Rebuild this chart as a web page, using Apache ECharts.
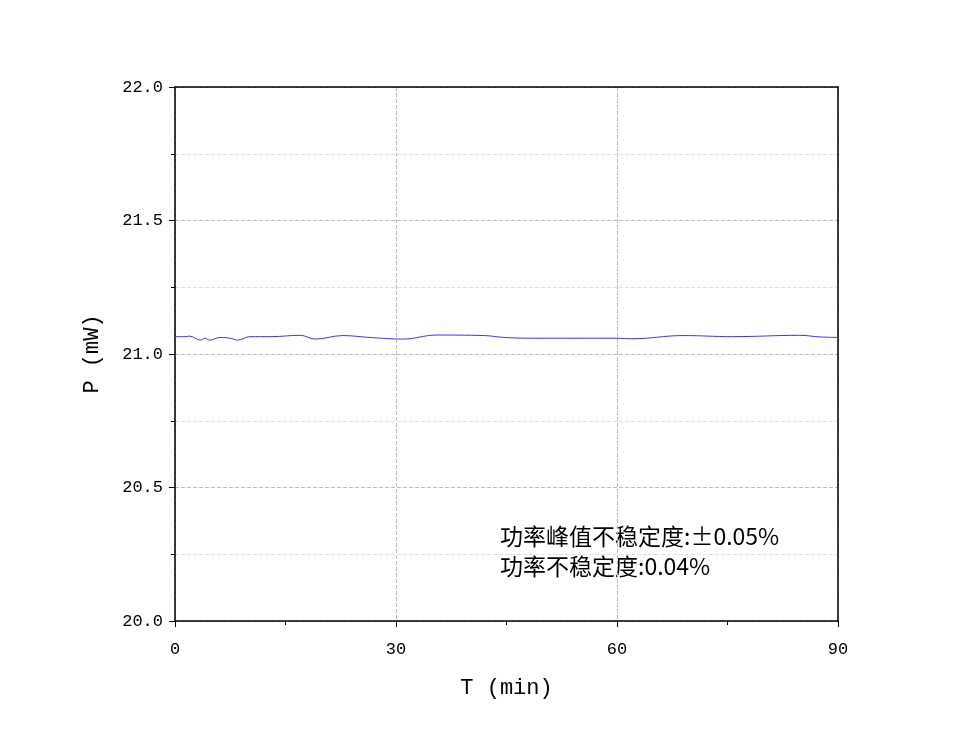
<!DOCTYPE html>
<html><head><meta charset="utf-8">
<script src="https://cdn.jsdelivr.net/npm/echarts@6/dist/echarts.min.js"></script>
<style>html,body{margin:0;padding:0;background:#fff}#c{width:974px;height:745px}</style>
</head><body><div id="c"></div>
<script>
const times = [0,1.4,2,3.4,4.1,4.7,6.1,7.5,8.5,10.2,13,17,19,22.8,26.4,31,35.5,42,44.7,48.6,60,62,69,75.7,84.8,87.5,90];
const power = [21.065,21.065,21.067,21.052,21.059,21.052,21.062,21.059,21.052,21.065,21.065,21.070,21.056,21.069,21.062,21.056,21.071,21.069,21.062,21.059,21.059,21.057,21.069,21.065,21.070,21.064,21.062];
const xTicks = [0,30,60,90];
const notes = ['功率峰值不稳定度:±0.05%','功率不稳定度:0.04%'];
const font = '"Liberation Mono","DejaVu Sans Mono",monospace';
const chart = echarts.init(document.getElementById('c'));
const grid = {left:175,right:136,top:87,bottom:124};
chart.setOption({
  animation:false,
  grid,
  xAxis:[{type:'value',min:0,max:90,interval:30,name:'T (min)',nameLocation:'middle',nameGap:56,
    nameTextStyle:{fontSize:22,color:'#000',fontFamily:font},
    axisLine:{lineStyle:{color:'#000',width:1.5}},axisTick:{inside:false,length:6,lineStyle:{color:'#000'}},
    minorTick:{show:true,splitNumber:2,length:4,lineStyle:{color:'#000'}},
    axisLabel:{color:'#000',fontSize:17,fontFamily:font,margin:20,formatter:v=>xTicks.includes(v)?String(v):''},
    splitLine:{show:true,lineStyle:{type:'dashed',color:'#bbb'}}},
   {type:'value',position:'top',min:0,max:90,axisLine:{onZero:false,lineStyle:{color:'#000',width:1.5}},axisTick:{show:false},axisLabel:{show:false},splitLine:{show:false}}],
  yAxis:[{type:'value',min:20,max:22,interval:0.5,name:'P (mW)',nameLocation:'middle',nameGap:72,
    nameTextStyle:{fontSize:22,color:'#000',fontFamily:font},
    axisLine:{show:true,lineStyle:{color:'#000',width:1.5}},axisTick:{show:true,length:6,lineStyle:{color:'#000'}},
    minorTick:{show:true,splitNumber:2,length:4,lineStyle:{color:'#000'}},
    minorSplitLine:{show:true,lineStyle:{type:'dashed',color:'#e0e0e0'}},
    axisLabel:{color:'#000',fontSize:17,fontFamily:font,margin:12,formatter:v=>v.toFixed(1)},
    splitLine:{show:true,lineStyle:{type:'dashed',color:'#bbb'}}},
   {type:'value',position:'right',min:20,max:22,axisLine:{show:true,onZero:false,lineStyle:{color:'#000',width:1.5}},axisTick:{show:false},axisLabel:{show:false},splitLine:{show:false}}],
  series:[{type:'line',data:times.map((t,i)=>[t,power[i]]),smooth:0.4,showSymbol:false,
    lineStyle:{color:'#3333ff',width:1}}],
  graphic:notes.map((t,i)=>({type:'text',left:500,top:525+i*30,style:{text:t,fontSize:23,fill:'#000',fontFamily:'"Noto Sans CJK SC","Liberation Mono"'}}))
});
</script></body></html>
